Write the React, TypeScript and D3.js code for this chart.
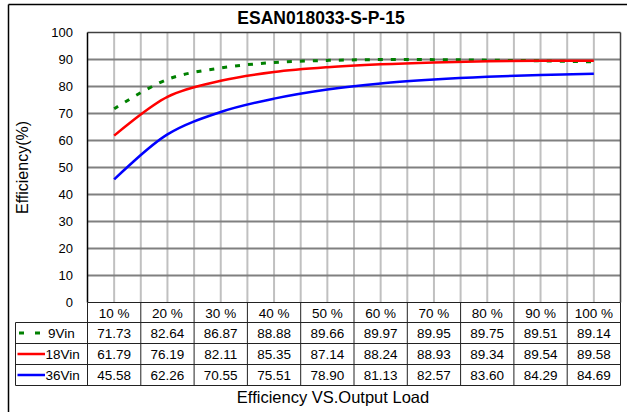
import React from "react";
import * as d3 from "d3";

// Load points and measured efficiency (%) per input voltage
const loads = ["10 %", "20 %", "30 %", "40 %", "50 %", "60 %", "70 %", "80 %", "90 %", "100 %"];
const eff9Vin = [71.73, 82.64, 86.87, 88.88, 89.66, 89.97, 89.95, 89.75, 89.51, 89.14];
const eff18Vin = [61.79, 76.19, 82.11, 85.35, 87.14, 88.24, 88.93, 89.34, 89.54, 89.58];
const eff36Vin = [45.58, 62.26, 70.55, 75.51, 78.9, 81.13, 82.57, 83.6, 84.29, 84.69];
const yTicks = [0, 10, 20, 30, 40, 50, 60, 70, 80, 90, 100];
const chartTitle = "ESAN018033-S-P-15";
const yTitle = "Efficiency(%)";
const xTitle = "Efficiency VS.Output Load";

const series = [
  { name: "9Vin", values: eff9Vin, color: "#008000", dash: "5,8", width: 3 },
  { name: "18Vin", values: eff18Vin, color: "#ff0000", dash: null, width: 2.5 },
  { name: "36Vin", values: eff36Vin, color: "#0000ff", dash: null, width: 2.5 },
];

const W = 627;
const H = 412;
const FONT = "'Liberation Sans', Arial, sans-serif";

export default function App() {
  const left = 87.5;
  const right = 620.5;
  const top = 32.5;
  const bottom = 302.5;
  const headerBottom = 322.5;
  const rowH = 21;
  const legendLeft = 15.5;

  const x = d3.scaleBand<string>().domain(loads).range([left, right]).padding(0);
  const bw = x.bandwidth();
  const cx = (c: string) => (x(c) as number) + bw / 2;
  const y = d3.scaleLinear().domain([0, 100]).range([bottom, top]);

  const line = (vals: number[]) =>
    d3
      .line<number>()
      .x((_, i) => cx(loads[i]))
      .y((v) => y(v))
      .curve(d3.curveCatmullRom.alpha(0.5))(vals) as string;

  const boundaries = loads.map((c) => x(c) as number).slice(1);
  const tableBottom = headerBottom + rowH * series.length;

  return (
    <svg
      width={W}
      height={H}
      style={{ position: "absolute", left: 0, top: 0, background: "#fff" }}
      fontFamily={FONT}
    >
      <rect x={0} y={0} width={W} height={H} fill="#fff" />
      {/* outer frame */}
      <line x1={8.5} y1={4.5} x2={W} y2={4.5} stroke="#000" strokeWidth={1.5} />
      <line x1={8.5} y1={4.5} x2={8.5} y2={H} stroke="#000" strokeWidth={1.5} />

      <text x={321} y={24} textAnchor="middle" fontSize={17.5} fontWeight="bold" fill="#000">
        {chartTitle}
      </text>

      {/* vertical gridlines at band centres and boundaries */}
      {loads.map((c) => (
        <line key={"vc" + c} x1={cx(c)} x2={cx(c)} y1={top} y2={bottom} stroke="#c0c0c0" strokeWidth={2} />
      ))}
      {boundaries.map((b, i) => (
        <line key={"vb" + i} x1={b} x2={b} y1={top} y2={bottom} stroke="#c0c0c0" strokeWidth={2} />
      ))}

      {/* horizontal gridlines */}
      {yTicks.slice(1, -1).map((t) => (
        <line key={"h" + t} x1={left} x2={right} y1={y(t)} y2={y(t)} stroke="#808080" strokeWidth={2} />
      ))}
      <line x1={left} x2={right} y1={y(100)} y2={y(100)} stroke="#404040" strokeWidth={1.5} />
      <line x1={right} x2={right} y1={top} y2={bottom} stroke="#404040" strokeWidth={1.5} />

      {/* y tick labels */}
      {yTicks.map((t) => (
        <text key={"yt" + t} x={73} y={y(t) + 4.5} textAnchor="end" fontSize={13} fill="#000">
          {t}
        </text>
      ))}

      <text
        transform={`translate(27.5,${(top + bottom) / 2}) rotate(-90)`}
        textAnchor="middle"
        fontSize={16}
        fill="#000"
      >
        {yTitle}
      </text>

      {/* series */}
      {series.map((s) => (
        <path
          key={s.name}
          d={line(s.values)}
          fill="none"
          stroke={s.color}
          strokeWidth={s.width}
          strokeDasharray={s.dash ?? undefined}
        />
      ))}

      <line x1={left} x2={left} y1={top} y2={bottom} stroke="#000" strokeWidth={1.5} />

      {/* data table */}
      <g stroke="#222" strokeWidth={1}>
        <line x1={left} x2={right} y1={bottom} y2={bottom} />
        <line x1={left} x2={left} y1={bottom} y2={tableBottom} />
        <line x1={right} x2={right} y1={bottom} y2={tableBottom} />
        {boundaries.map((b, i) => (
          <line key={"tb" + i} x1={b} x2={b} y1={bottom} y2={tableBottom} />
        ))}
        <line x1={legendLeft} x2={legendLeft} y1={headerBottom} y2={tableBottom} />
        {series.map((s, i) => (
          <line
            key={"rl" + s.name}
            x1={legendLeft}
            x2={right}
            y1={headerBottom + rowH * i}
            y2={headerBottom + rowH * i}
          />
        ))}
        <line x1={legendLeft} x2={right} y1={tableBottom} y2={tableBottom} />
      </g>

      {loads.map((c) => (
        <text key={"hd" + c} x={cx(c)} y={(bottom + headerBottom) / 2 + 5} textAnchor="middle" fontSize={13.5} fill="#000">
          {c}
        </text>
      ))}

      {series.map((s, i) => {
        const rowMid = headerBottom + rowH * i + rowH / 2;
        return (
          <g key={"row" + s.name}>
            {s.dash ? (
              <line x1={19} x2={41} y1={rowMid} y2={rowMid} stroke={s.color} strokeWidth={3} strokeDasharray="5,11" />
            ) : (
              <line x1={17.5} x2={45} y1={rowMid} y2={rowMid} stroke={s.color} strokeWidth={2.5} />
            )}
            <text x={s.name.length > 4 ? 45.5 : 48} y={rowMid + 5} fontSize={13.5} fill="#000">
              {s.name}
            </text>
            {s.values.map((v, j) => (
              <text key={j} x={cx(loads[j])} y={rowMid + 5} textAnchor="middle" fontSize={13.5} fill="#000">
                {v.toFixed(2)}
              </text>
            ))}
          </g>
        );
      })}

      <text x={333} y={403} textAnchor="middle" fontSize={16.5} fill="#000">
        {xTitle}
      </text>
    </svg>
  );
}
